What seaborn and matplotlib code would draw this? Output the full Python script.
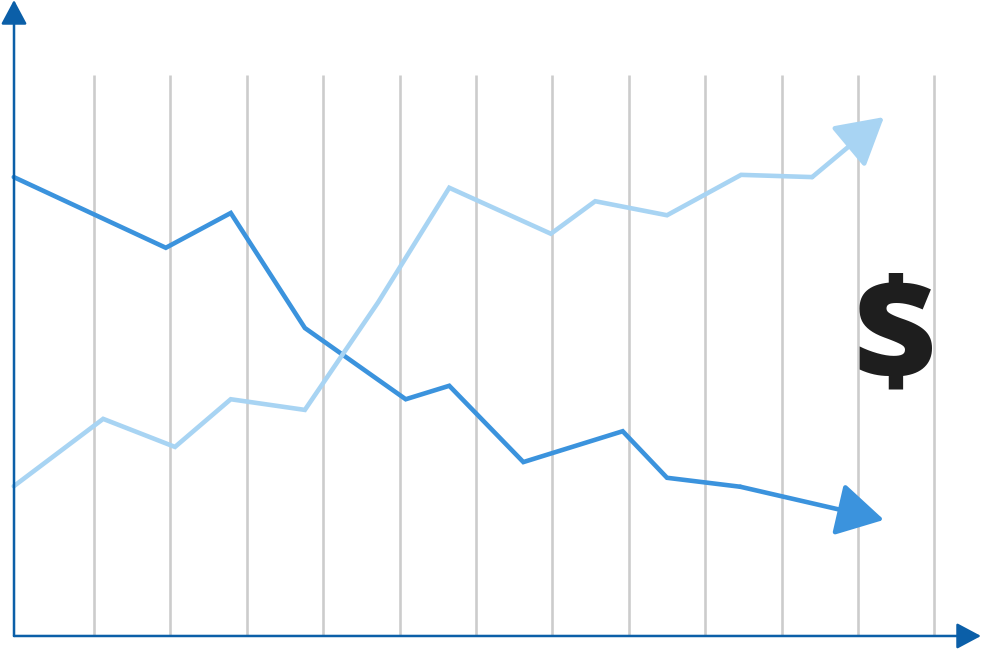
import numpy as np
import pandas as pd
import matplotlib
matplotlib.use("Agg")
import matplotlib.pyplot as plt
import seaborn as sns

# values: x in grid steps, y as share of the grid height
falling_x = [-0.05, 1.94, 2.79, 3.76, 5.08, 5.65, 6.62, 7.92, 8.50, 9.46]
falling_y = [81.8, 69.2, 75.4, 54.9, 42.2, 44.6, 31.0, 36.5, 28.2, 26.6]
falling_tip = (11.34, 20.7)

rising_x = [-0.05, 1.12, 2.06, 2.79, 3.76, 4.72, 5.65, 6.98, 7.56, 8.50, 9.47, 10.40]
rising_y = [26.7, 38.7, 33.7, 42.2, 40.3, 59.5, 79.9, 71.7, 77.5, 75.0, 82.2, 81.8]
rising_tip = (11.34, 92.5)

grid_x = [1, 2, 3, 4, 5, 6, 7, 8, 9, 10, 11, 12]
symbol = "$"

dark = "#3b93dd"
light = "#a8d4f3"
axis_col = "#0b5fa8"

df = pd.concat([
    pd.DataFrame({"x": falling_x, "y": falling_y, "series": "falling"}),
    pd.DataFrame({"x": rising_x, "y": rising_y, "series": "rising"}),
])

sns.set_style("white")
fig = plt.figure(figsize=(9.81, 6.5), dpi=100)
ax = fig.add_axes([0, 0, 1, 1])

x0 = -0.047
ax.set_xlim(-0.2304, 12.61)
ax.set_ylim(-2.5, 113.37)
ax.axis("off")

ax.vlines(grid_x, 0, 100, color="#cccccc", lw=1.9, zorder=1)

sns.lineplot(data=df, x="x", y="y", hue="series", palette={"falling": dark, "rising": light},
             sort=False, estimator=None, lw=3.3, legend=False, ax=ax, zorder=3)
for line in ax.lines:
    line.set_solid_joinstyle("miter")

# arrow heads at the end of each series
for xs, ys, tip, col in [(falling_x, falling_y, falling_tip, dark),
                         (rising_x, rising_y, rising_tip, light)]:
    ax.annotate("", xy=tip, xytext=(xs[-1], ys[-1]),
                arrowprops=dict(arrowstyle="-|>,head_length=29,head_width=16.5",
                                color=col, lw=3.3, shrinkA=0, shrinkB=0,
                                mutation_scale=1), zorder=3)

# axes with arrows
ax.annotate("", xy=(x0, 113.37), xytext=(x0, 0),
            arrowprops=dict(arrowstyle="-|>,head_length=15,head_width=8",
                            color=axis_col, lw=1.8, shrinkA=0, shrinkB=0,
                            mutation_scale=1), zorder=4)
ax.annotate("", xy=(12.61, 0), xytext=(x0, 0),
            arrowprops=dict(arrowstyle="-|>,head_length=15,head_width=8",
                            color=axis_col, lw=1.8, shrinkA=0, shrinkB=0,
                            mutation_scale=1), zorder=4)

ax.text(11.48, 52.2, symbol, fontsize=102, fontweight=800, family="Open Sans",
        color="#1e1e1e", ha="center", va="center", zorder=5)

fig.savefig("out.png", dpi=100)
